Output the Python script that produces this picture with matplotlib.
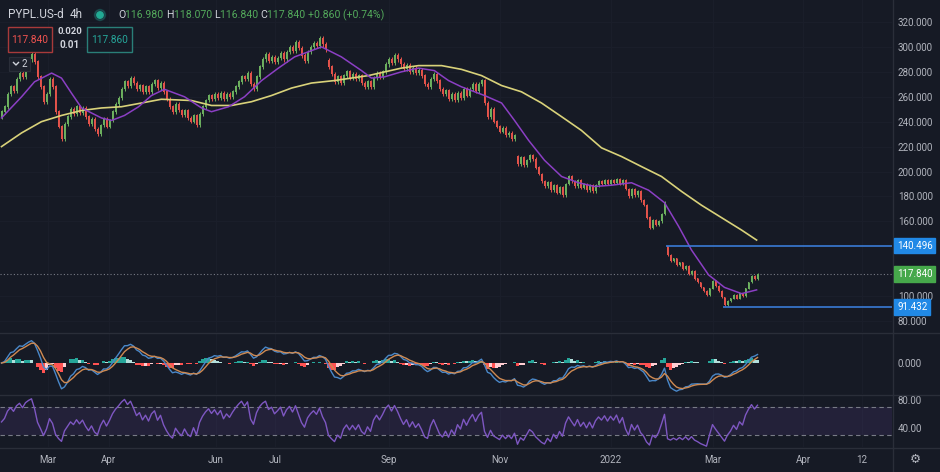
import numpy as np
import matplotlib
matplotlib.use("Agg")
import matplotlib.pyplot as plt
from matplotlib.patches import Rectangle, Circle

# ---------------- data ----------------
closes = [
    248, 252, 262, 268, 265,
    274, 279, 276,
    285, 290, 294, 288,
    276, 268,
    256,
    262, 274, 268,
    248, 236, 226,
    238, 244,
    250, 246, 252, 247, 251,
    244, 238, 242, 234, 230,
    237, 242, 236, 241,
    248, 254, 259,
    266, 272, 269, 275, 271,
    266, 269, 264, 268, 264,
    270, 273, 267, 271,
    264, 258,
    252, 248, 254, 249, 245,
    249, 243, 240, 245, 237,
    246, 252, 257,
    261, 258, 262, 259, 263, 258, 262, 260, 264,
    268, 272, 276, 274, 279,
    270, 266, 276, 284,
    290, 294, 289, 292, 288, 291, 295, 290,
    296, 300, 297, 304, 299,
    293, 289, 296,
    300, 303, 301, 307, 302,
    298,
    284, 278,
    272, 276, 271,
    277, 280, 275, 278, 274, 277,
    271, 268, 272, 268,
    275, 279, 276, 280,
    286, 290, 287, 293, 290, 286,
    282, 285, 280,
    283, 279, 281, 277,
    270, 268,
    274, 278, 273,
    266, 262, 265, 258,
    262, 257, 263,
    259, 266, 261,
    266, 270, 265, 270, 273,
    255, 244,
    250, 240,
    236, 232, 235, 229, 231, 226, 229,
    206,
    211, 205, 209, 213,
    210, 203, 198,
    192, 188, 191, 185, 189, 183, 187, 181,
    190, 196, 192, 188, 193,
    187, 190, 185, 189, 184,
    189, 192, 190, 193,
    190, 193, 191, 194, 190, 193,
    186, 180,
    186, 181, 184, 177, 173,
    163, 155,
    161, 157, 160, 166,
    175,
    133,
    128, 130, 125, 127, 122,
    124, 118, 120, 114, 111,
    107, 104,
    101, 106, 112,
    108, 104, 99, 93, 96,
    98, 101, 98, 102, 100,
    106, 111, 116, 114, 117.84,
]
first_open = 244.0
gap_opens = {109: 289.0, 172: 212.0, 222: 139.6}

# moving averages (bar index, value)
purple_ma_x = [0, 6.7, 11, 16.7, 20, 23.3, 26.7, 33.3, 36.7, 41, 45.7, 50, 54.3, 61, 66.7,
               70, 75.7, 81, 86.7, 92.3, 97.7, 103.3, 106.7, 113.3, 120, 123.3, 127.7,
               133.3, 139, 144.3, 149, 153.3, 161, 166.7, 171, 175.7, 181, 186.7, 192.3,
               197.7, 203.3, 210, 215.7, 221, 225.7, 230, 235.7, 241, 246.7, 251.7]
purple_ma = [243, 260, 272, 279, 275, 263, 251, 243, 241, 245, 252, 261, 266, 260, 251,
             248, 252, 260, 273, 283, 292, 297, 300, 292, 281, 275, 276,
             280, 283, 281, 273, 268, 261, 255, 241, 225, 209, 196, 191,
             188, 189, 191, 185, 175, 156, 137, 117, 107, 102, 105]
yellow_ma_x = [0, 6.7, 13.3, 20, 26.7, 33.3, 40, 46.7, 53.3, 63.3, 70, 76.7, 83.3, 90,
               96.7, 103.3, 111, 122.3, 133.3, 139, 146.7, 153.3, 160, 166.7, 173.3,
               180, 186.7, 193.3, 200, 206.7, 213.3, 220, 226.7, 233.3, 240, 246.7, 251.7]
yellow_ma = [220, 231, 240, 245, 249, 251, 252, 255, 258, 257, 253, 253, 256, 261,
             267, 271, 273, 277, 283, 285, 285, 282, 277, 269, 264,
             255, 244, 233, 219, 212, 204, 196, 184, 173, 163, 153, 145]

level_high, level_high_bar = 140.496, 222
level_low, level_low_bar = 91.432, 241
last_price = 117.840

price_ticks = [80, 100, 160, 180, 200, 220, 240, 260, 280, 300, 320]
rsi_ticks = [40, 80]
time_labels = ["Mar", "Apr", "Jun", "Jul", "Sep", "Nov", "2022", "Mar", "Apr", "12"]
time_pos = [15.5, 35.8, 71.5, 91.2, 129.0, 166.0, 203.2, 237.0, 267.2, 286.7]

symbol, interval = "PYPL.US-d", "4h"
ohlc = [("O", "116.980"), ("H", "118.070"), ("L", "116.840"), ("C", "117.840")]
change = "+0.860 (+0.74%)"
bid, ask, spread_a, spread_b = "117.840", "117.860", "0.020", "0.01"

# ---------------- style ----------------
W, H = 940, 472
BG = "#161a25"
TXT = "#b2b5be"
SEP = "#2a2e39"
GRID = "#1b1f2b"
UP, DN = "#6db15f", "#e5534b"
plt.rcParams["font.family"] = ["Roboto", "DejaVu Sans"]

closes = np.array(closes, dtype=float)
n = len(closes)
opens = np.concatenate([[first_open], closes[:-1]])
for k, v in gap_opens.items():
    opens[k] = v
WICK = 0.006
highs = np.maximum(opens, closes) * (1 + WICK)
lows = np.minimum(opens, closes) * (1 - WICK)
xs = np.arange(n)


def ema(a, p):
    k = 2.0 / (p + 1)
    out = np.empty_like(a)
    out[0] = a[0]
    for i in range(1, len(a)):
        out[i] = a[i] * k + out[i - 1] * (1 - k)
    return out


def rsi_calc(a, p, seed=30):
    d = np.diff(a, prepend=a[0])
    up = np.clip(d, 0, None)
    dn = np.clip(-d, 0, None)
    au = np.empty_like(a)
    ad = np.empty_like(a)
    au[0] = up[1:seed + 1].mean()
    ad[0] = dn[1:seed + 1].mean()
    for i in range(1, len(a)):
        au[i] = (au[i - 1] * (p - 1) + up[i]) / p
        ad[i] = (ad[i - 1] * (p - 1) + dn[i]) / p
    return 100 - 100 / (1 + au / np.maximum(ad, 1e-9))


macd = ema(closes, 5) - ema(closes, 11)
signal = ema(macd, 4)
hist = macd - signal
rsi = rsi_calc(closes, 6)

fig = plt.figure(figsize=(W / 100, H / 100), dpi=100, facecolor=BG)
XL = (-0.5, (892 - 1.5) / 3)


def px_axes(top, bottom):
    return fig.add_axes([0, 1 - bottom / H, 892 / W, (bottom - top) / H])


ax = px_axes(0, 332)
axm = px_axes(333, 394)
axr = px_axes(395, 447)
for a in (ax, axm, axr):
    a.set_facecolor(BG)
    a.set_xlim(*XL)
    for s in a.spines.values():
        s.set_visible(False)
    a.tick_params(length=0, colors=TXT, labelsize=7)
    a.set_xticks(time_pos)
    a.set_xticklabels([])
    for t in time_pos:
        a.axvline(t, color=GRID, lw=0.7, zorder=0)
    a.yaxis.tick_right()

# ----- main price panel -----
ax.set_ylim(320 - 310 / 1.246, 320 + 22 / 1.246)
ax.set_yticks(price_ticks)
ax.set_yticklabels([f"{v:.3f}" for v in price_ticks])
ax.tick_params(axis="y", pad=4.3)
for v in price_ticks:
    ax.axhline(v, color=GRID, lw=0.7, zorder=0)
cols = np.where(closes >= opens, UP, DN)
ax.vlines(xs, lows, highs, colors=cols, lw=0.7, zorder=3)
ax.bar(xs, np.abs(closes - opens) + 0.3, bottom=np.minimum(opens, closes), width=0.55,
       color=cols, zorder=3, linewidth=0)
ax.plot(yellow_ma_x, yellow_ma, color="#d9d27a", lw=1.2, zorder=4)
ax.plot(purple_ma_x, purple_ma, color="#8b3fc4", lw=1.1, zorder=4)
ax.axhline(last_price, color="#787b86", lw=0.8, ls=(0, (1, 2)), zorder=2)
ax.hlines(level_high, level_high_bar - 0.5, XL[1], color="#3a7bd5", lw=1.2, zorder=5)
ax.hlines(level_low, level_low_bar - 0.5, XL[1], color="#3a7bd5", lw=1.2, zorder=5)

# ----- MACD panel -----
M = np.abs(np.concatenate([macd, signal])).max() * 1.1
axm.set_ylim(-M, M * 30 / 31)
axm.set_yticks([0])
axm.set_yticklabels(["0.000"])
axm.tick_params(axis="y", pad=4.3)
hcols = []
for i in range(n):
    prev = hist[i - 1] if i > 0 else 0.0
    if hist[i] >= 0:
        hcols.append("#26a69a" if hist[i] >= prev else "#b2dfdb")
    else:
        hcols.append("#ff5252" if hist[i] < prev else "#ffcdd2")
axm.bar(xs, hist, width=0.8, color=hcols, linewidth=0, zorder=2)
axm.plot(xs, macd, color="#4a88c9", lw=1.0, zorder=3)
axm.plot(xs, signal, color="#cf8a52", lw=1.0, zorder=3)

# ----- RSI panel -----
axr.set_ylim(80 - 52 / 0.7 + 5 / 0.7, 80 + 5 / 0.7)
axr.set_yticks(rsi_ticks)
axr.set_yticklabels([f"{v:.2f}" for v in rsi_ticks])
axr.tick_params(axis="y", pad=4.3)
axr.axhspan(30, 70, color="#7e57c2", alpha=0.13, lw=0, zorder=1)
axr.axhline(70, color="#787b86", lw=0.8, ls=(0, (4, 3)), zorder=2)
axr.axhline(30, color="#787b86", lw=0.8, ls=(0, (4, 3)), zorder=2)
axr.plot(xs, rsi, color="#7e57c2", lw=1.0, zorder=3)
axr.set_xticklabels(time_labels)
axr.tick_params(axis="x", pad=6.0, labelsize=7, colors=TXT)

# ----- overlay in pixel coordinates -----
ov = fig.add_axes([0, 0, 1, 1], facecolor="none", zorder=10)
ov.set_xlim(0, W)
ov.set_ylim(H, 0)
ov.axis("off")
for y in (332.5, 394.5, 447.5):
    ov.plot([0, W], [y, y], color=SEP, lw=1)
ov.plot([892.5, 892.5], [0, H], color=SEP, lw=1)


def tag(y, text, color):
    ov.text(897, y, text, color="white", fontsize=7, va="center", ha="left",
            bbox=dict(boxstyle="square,pad=0.28", fc=color, ec=color))


ymap = lambda p: 22 + (320 - p) * 1.246
tag(ymap(level_high), f"{level_high:.3f}", "#2189e6")
tag(ymap(last_price), f"{last_price:.3f}", "#46a84b")
tag(ymap(level_low), f"{level_low:.3f}", "#2189e6")
ov.text(915, 459, "\u2699", family="DejaVu Sans", color=TXT, fontsize=9, ha="center", va="center")

# header
ov.text(8, 15, symbol, color="#d1d4dc", fontsize=8.5, va="center", ha="left")
ov.text(70, 15, interval, color="#d1d4dc", fontsize=8.5, va="center", ha="left")
ov.add_patch(Circle((100, 15), 5.5, color="#26a69a", alpha=0.25))
ov.add_patch(Circle((100, 15), 3.2, color="#22ab94"))
r = fig.canvas.get_renderer()
x = 118
parts = []
for lab, val in ohlc:
    parts += [(lab, "#d1d4dc"), (val + " ", "#53a95b")]
parts += [(change, "#53a95b")]
for s, c in parts:
    t = ov.text(x, 15, s, color=c, fontsize=7.6, va="center", ha="left")
    bb = t.get_window_extent(renderer=r)
    x += bb.width
ov.add_patch(Rectangle((8, 27), 44, 25, fc=BG, ec="#a83a3a", lw=1))
ov.text(30, 40, bid, color="#f05350", fontsize=7.3, ha="center", va="center")
ov.text(70, 32, spread_a, color="#d1d4dc", fontsize=6.8, ha="center", va="center", weight="bold")
ov.text(70, 45, spread_b, color="#d1d4dc", fontsize=7.2, ha="center", va="center", weight="bold")
ov.add_patch(Rectangle((87, 27), 45, 25, fc=BG, ec="#2a7f78", lw=1))
ov.text(110, 40, ask, color="#26a69a", fontsize=7.3, ha="center", va="center")
ov.add_patch(Rectangle((9, 57), 21, 14, fc="#1e222d", ec=SEP, lw=0.8))
ov.plot([13.5, 16, 18.5], [62.5, 65, 62.5], color="#d1d4dc", lw=1)
ov.text(24.5, 64, "2", color="#d1d4dc", fontsize=7, ha="center", va="center")

fig.savefig("out.png", dpi=100, facecolor=BG)
